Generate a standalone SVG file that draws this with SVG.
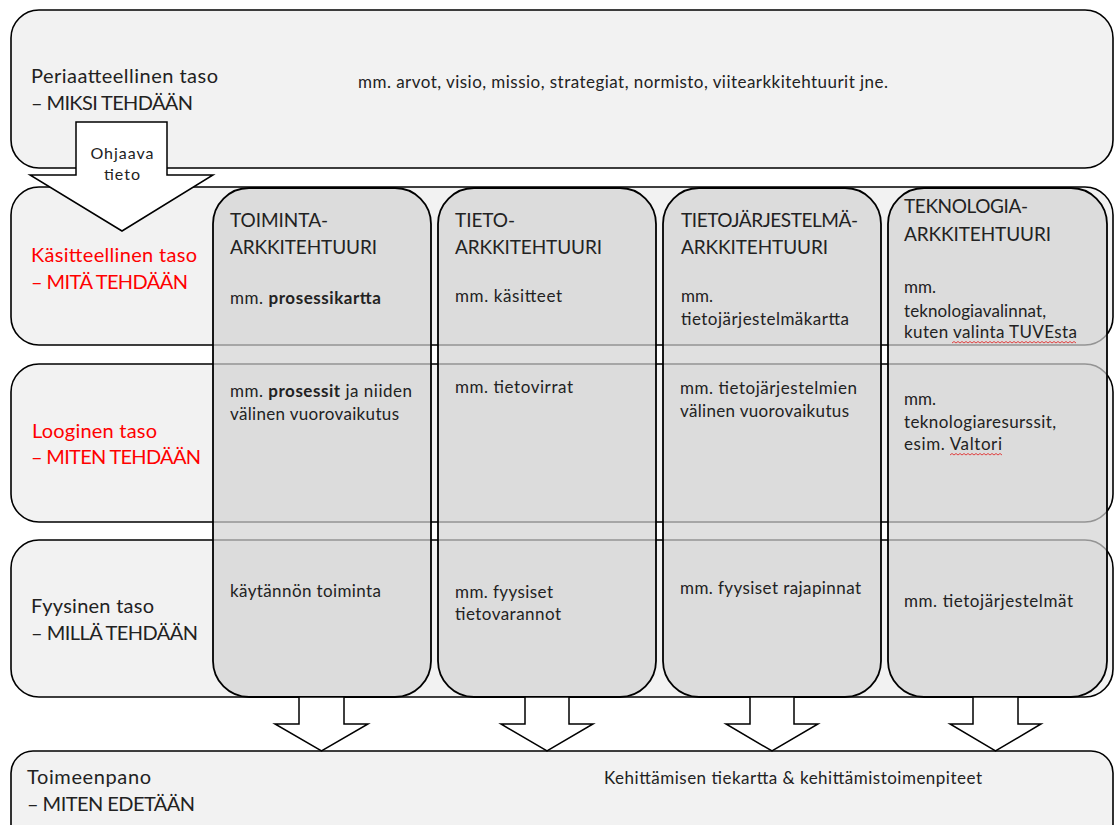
<svg xmlns="http://www.w3.org/2000/svg" width="1115" height="825" viewBox="0 0 1115 825">
  <style>
    text { font-family: Lato, "Open Sans", "Liberation Sans", sans-serif; fill: #222; }
    .lbl { font-size: 20px; }
    .hd { font-size: 19px; }
    .tx { font-size: 17px; }
    .sm { font-size: 16px; }
    .red { fill: #ff0000; }
    .b { font-weight: bold; }
    .row { fill: #f2f2f2; stroke: #000; stroke-width: 1.6; }
    .col { fill: #d3d3d3; fill-opacity: 0.7; stroke: #000; stroke-width: 1.8; }
    .arrow { fill: #fff; stroke: #000; stroke-width: 1.5; stroke-linejoin: miter; }
    .wavy { fill: none; stroke: #e03030; stroke-width: 0.9; }
  </style>

  <!-- horizontal levels -->
  <g id="level-periaatteellinen">
    <rect class="row" x="11" y="10" width="1102" height="158" rx="28" ry="28"/>
  </g>
  <g id="level-kasitteellinen">
    <rect class="row" x="11" y="187" width="1102" height="158" rx="28" ry="28"/>
  </g>
  <g id="level-looginen">
    <rect class="row" x="11" y="364" width="1102" height="158" rx="28" ry="28"/>
  </g>
  <g id="level-fyysinen">
    <rect class="row" x="11" y="540" width="1102" height="157" rx="28" ry="28"/>
  </g>
  <g id="level-toimeenpano">
    <rect class="row" x="11" y="751" width="1102" height="110" rx="22" ry="22"/>
  </g>

  <!-- architecture columns (translucent over the levels) -->
  <g id="col-toiminta">
    <rect class="col" x="213" y="188" width="218" height="509" rx="36" ry="36"/>
  </g>
  <g id="col-tieto">
    <rect class="col" x="438" y="188" width="218" height="509" rx="36" ry="36"/>
  </g>
  <g id="col-tietojarjestelma">
    <rect class="col" x="663" y="188" width="218" height="509" rx="36" ry="36"/>
  </g>
  <g id="col-teknologia">
    <rect class="col" x="888" y="188" width="219" height="509" rx="36" ry="36"/>
  </g>

  <!-- connectors -->
  <g id="connectors">
    <polygon id="arrow-ohjaava" class="arrow" points="76,122 167,122 167,175 213,175 122,231 30,175 76,175"/>
    <polygon class="arrow" points="299,697 344,697 344,724 368,724 321.5,751 275,724 299,724"/>
    <polygon class="arrow" points="525,697 569,697 569,724 593,724 547,751 501,724 525,724"/>
    <polygon class="arrow" points="750,697 794,697 794,724 818,724 772,751 726,724 750,724"/>
    <polygon class="arrow" points="973,697 1018,697 1018,724 1041,724 995.5,751 950,724 973,724"/>
  </g>

  <!-- arrow label -->
  <g id="label-ohjaava">
    <text class="sm" x="122" y="159" text-anchor="middle" textLength="63">Ohjaava</text>
    <text class="sm" x="122" y="180" text-anchor="middle" textLength="36">tieto</text>
  </g>

  <!-- level labels -->
  <g id="labels-levels">
    <text class="lbl" x="31" y="83" textLength="187">Periaatteellinen taso</text>
    <text class="lbl" x="31" y="110" textLength="162">– MIKSI TEHDÄÄN</text>
    <text class="tx" x="358" y="88" textLength="530">mm. arvot, visio, missio, strategiat, normisto, viitearkkitehtuurit jne.</text>

    <text class="lbl red" x="31" y="262" textLength="166">Käsitteellinen taso</text>
    <text class="lbl red" x="31" y="289" textLength="157">– MITÄ TEHDÄÄN</text>

    <text class="lbl red" x="32" y="438" textLength="125">Looginen taso</text>
    <text class="lbl red" x="31" y="464" textLength="170">– MITEN TEHDÄÄN</text>

    <text class="lbl" x="31" y="613" textLength="123">Fyysinen taso</text>
    <text class="lbl" x="31" y="640" textLength="167">– MILLÄ TEHDÄÄN</text>

    <text class="lbl" x="27" y="784" textLength="124">Toimeenpano</text>
    <text class="lbl" x="27" y="811" textLength="168">– MITEN EDETÄÄN</text>
    <text class="tx" x="604" y="784" textLength="378">Kehittämisen tiekartta &amp; kehittämistoimenpiteet</text>
  </g>

  <!-- column texts -->
  <g id="text-toiminta">
    <text class="hd" x="230" y="227" textLength="98">TOIMINTA-</text>
    <text class="hd" x="230" y="254" textLength="147">ARKKITEHTUURI</text>
    <text class="tx" x="230" y="304" textLength="151">mm. <tspan class="b">prosessikartta</tspan></text>
    <text class="tx" x="230" y="397" textLength="182">mm. <tspan class="b">prosessit</tspan> ja niiden</text>
    <text class="tx" x="230" y="420" textLength="169">välinen vuorovaikutus</text>
    <text class="tx" x="230" y="597" textLength="151">käytännön toiminta</text>
  </g>
  <g id="text-tieto">
    <text class="hd" x="455" y="227" textLength="60">TIETO-</text>
    <text class="hd" x="455" y="254" textLength="147">ARKKITEHTUURI</text>
    <text class="tx" x="455" y="302" textLength="107">mm. käsitteet</text>
    <text class="tx" x="455" y="393" textLength="118">mm. tietovirrat</text>
    <text class="tx" x="455" y="598" textLength="98">mm. fyysiset</text>
    <text class="tx" x="455" y="620" textLength="106">tietovarannot</text>
  </g>
  <g id="text-tietojarjestelma">
    <text class="hd" x="681" y="227" textLength="177">TIETOJÄRJESTELMÄ-</text>
    <text class="hd" x="681" y="254" textLength="147">ARKKITEHTUURI</text>
    <text class="tx" x="681" y="302">mm.</text>
    <text class="tx" x="681" y="325" textLength="168">tietojärjestelmäkartta</text>
    <text class="tx" x="680" y="394" textLength="177">mm. tietojärjestelmien</text>
    <text class="tx" x="680" y="417" textLength="169">välinen vuorovaikutus</text>
    <text class="tx" x="680" y="594" textLength="181">mm. fyysiset rajapinnat</text>
  </g>
  <g id="text-teknologia">
    <text class="hd" x="904" y="213" textLength="124">TEKNOLOGIA-</text>
    <text class="hd" x="904" y="241" textLength="147">ARKKITEHTUURI</text>
    <text class="tx" x="904" y="293">mm.</text>
    <text class="tx" x="904" y="317" textLength="142">teknologiavalinnat,</text>
    <text class="tx" x="904" y="338" textLength="173">kuten valinta TUVEsta</text>
    <path class="wavy" d="M952,343 l2,-1.5 l2,1.5 l2,-1.5 l2,1.5 l2,-1.5 l2,1.5 l2,-1.5 l2,1.5 l2,-1.5 l2,1.5 l2,-1.5 l2,1.5 l2,-1.5 l2,1.5 l2,-1.5 l2,1.5 l2,-1.5 l2,1.5 l2,-1.5 l2,1.5 l2,-1.5 l2,1.5 l2,-1.5 l2,1.5 l2,-1.5 l2,1.5 l2,-1.5 l2,1.5 l2,-1.5 l2,1.5 l2,-1.5 l2,1.5 l2,-1.5 l2,1.5 l2,-1.5 l2,1.5 l2,-1.5 l2,1.5 l2,-1.5 l2,1.5 l2,-1.5 l2,1.5 l2,-1.5 l2,1.5 l2,-1.5 l2,1.5 l2,-1.5 l2,1.5 l2,-1.5 l2,1.5 l2,-1.5 l2,1.5 l2,-1.5 l2,1.5 l2,-1.5 l2,1.5 l2,-1.5 l2,1.5 l2,-1.5 l2,1.5 l2,-1.5 l2,1.5"/>
    <text class="tx" x="904" y="405">mm.</text>
    <text class="tx" x="904" y="428" textLength="152">teknologiaresurssit,</text>
    <text class="tx" x="904" y="450" textLength="98">esim. Valtori</text>
    <path class="wavy" d="M950,455 l2,-1.5 l2,1.5 l2,-1.5 l2,1.5 l2,-1.5 l2,1.5 l2,-1.5 l2,1.5 l2,-1.5 l2,1.5 l2,-1.5 l2,1.5 l2,-1.5 l2,1.5 l2,-1.5 l2,1.5 l2,-1.5 l2,1.5 l2,-1.5 l2,1.5 l2,-1.5 l2,1.5 l2,-1.5 l2,1.5 l2,-1.5 l2,1.5"/>
    <text class="tx" x="904" y="607" textLength="169">mm. tietojärjestelmät</text>
  </g>
</svg>
